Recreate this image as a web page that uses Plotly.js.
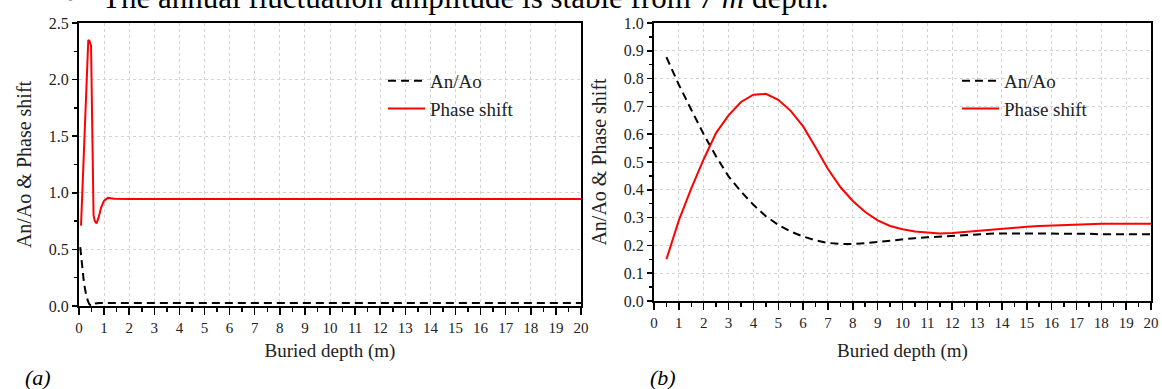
<!DOCTYPE html>
<html>
<head>
<meta charset="utf-8">
<script src="https://cdn.plot.ly/plotly-3.0.1.min.js"></script>
<style>html,body{margin:0;padding:0;background:#fff;}#chart{width:1162px;height:389px;}</style>
</head>
<body>
<div id="chart"></div>
<script>
// ---- Data ----
const depthA_phase = [0.08, 0.2, 0.3, 0.37, 0.42, 0.48, 0.53, 0.58, 0.63, 0.7, 0.78, 0.88, 1.0, 1.15, 1.4, 2, 4, 6, 8, 10, 12, 14, 16, 18, 20];
const phaseA       = [0.71, 1.45, 2.05, 2.35, 2.34, 2.30, 1.55, 0.80, 0.75, 0.73, 0.78, 0.87, 0.93, 0.955, 0.948, 0.945, 0.945, 0.945, 0.945, 0.945, 0.945, 0.945, 0.945, 0.945, 0.945];
const depthA_amp   = [0.05, 0.12, 0.2, 0.3, 0.4, 0.48, 0.56, 0.65, 0.8, 1.0, 2, 4, 6, 8, 10, 12, 14, 16, 18, 20];
const ampA         = [0.52, 0.35, 0.2, 0.08, 0.02, 0.0, 0.01, 0.022, 0.027, 0.027, 0.027, 0.027, 0.027, 0.027, 0.027, 0.027, 0.027, 0.027, 0.027, 0.027];

const depthB = [0.5,1,1.5,2,2.5,3,3.5,4,4.5,5,5.5,6,6.5,7,7.5,8,8.5,9,9.5,10,10.5,11,11.5,12,12.5,13,13.5,14,14.5,15,15.5,16,16.5,17,17.5,18,18.5,19,19.5,20];
const phaseB = [0.15,0.29,0.405,0.51,0.605,0.668,0.716,0.742,0.745,0.724,0.684,0.628,0.553,0.475,0.41,0.36,0.32,0.29,0.27,0.258,0.25,0.246,0.243,0.245,0.249,0.253,0.257,0.261,0.264,0.267,0.27,0.272,0.274,0.276,0.277,0.278,0.278,0.278,0.278,0.278];
const ampB   = [0.877,0.778,0.688,0.6,0.52,0.448,0.394,0.346,0.305,0.274,0.25,0.232,0.218,0.209,0.205,0.205,0.208,0.213,0.218,0.222,0.226,0.229,0.232,0.235,0.238,0.24,0.242,0.243,0.243,0.243,0.243,0.243,0.243,0.243,0.242,0.24,0.24,0.24,0.24,0.24];

const seriesNames = ['An/Ao', 'Phase shift'];
const xTitle = 'Buried depth (m)';
const yTitle = 'An/Ao &amp; Phase shift';
const topText = 'The annual fluctuation amplitude is stable from 7 <i>m</i> depth.';
const panelLabels = ['(a)', '(b)'];

// ---- Geometry ----
const W = 1162, H = 389;
const px = v => v / W;
const py = v => (H - v) / H;
const SERIF = 'Liberation Serif';

const ampStyle = {color: '#000000', width: 2, dash: '8px,5px'};
const phaseStyle = {color: '#ff0000', width: 2};

const traces = [
  {x: depthA_amp, y: ampA, name: seriesNames[0], mode: 'lines', line: ampStyle, xaxis: 'x', yaxis: 'y', legend: 'legend'},
  {x: depthA_phase, y: phaseA, name: seriesNames[1], mode: 'lines', line: phaseStyle, xaxis: 'x', yaxis: 'y', legend: 'legend'},
  {x: depthB, y: ampB, name: seriesNames[0], mode: 'lines', line: ampStyle, xaxis: 'x2', yaxis: 'y2', legend: 'legend2'},
  {x: depthB, y: phaseB, name: seriesNames[1], mode: 'lines', line: phaseStyle, xaxis: 'x2', yaxis: 'y2', legend: 'legend2'}
];

const GRID = {showgrid: true, gridcolor: '#d2d2d2', griddash: '3px,3px', gridwidth: 1, zeroline: false};

function xAxis(domain, anchor, standoff) {
  return Object.assign({
    domain: domain, anchor: anchor, range: [0, 20], tick0: 0, dtick: 1,
    ticks: 'outside', ticklen: 7, tickwidth: 1.5, tickcolor: '#000',
    showline: true, linecolor: '#000', linewidth: 2, mirror: true,
    minor: {dtick: 0.5, ticks: 'outside', ticklen: 4, tickwidth: 1.5, tickcolor: '#000', showgrid: false},
    tickfont: {family: SERIF, size: 15, color: '#222'},
    title: {text: xTitle, font: {family: SERIF, size: 19, color: '#222'}, standoff: standoff},
    fixedrange: true
  }, GRID);
}
function yAxis(domain, anchor, range, dtick, minor, standoff) {
  return Object.assign({
    domain: domain, anchor: anchor, range: range, tick0: 0, dtick: dtick,
    ticks: 'outside', ticklen: 5, tickwidth: 1.5, tickcolor: '#000',
    showline: true, linecolor: '#000', linewidth: 2, mirror: true,
    minor: {dtick: minor, ticks: 'outside', ticklen: 3, tickwidth: 1.5, tickcolor: '#000', showgrid: false},
    tickfont: {family: SERIF, size: 16, color: '#222'}, tickformat: '.1f',
    title: {text: yTitle, font: {family: SERIF, size: 20, color: '#222'}, standoff: standoff},
    fixedrange: true
  }, GRID);
}

const legendBase = {
  font: {family: SERIF, size: 19, color: '#222'}, bgcolor: 'rgba(0,0,0,0)',
  borderwidth: 0, xanchor: 'left', yanchor: 'top', itemwidth: 37, tracegroupgap: 0
};

const layout = {
  width: W, height: H,
  margin: {l: 0, r: 0, t: 0, b: 0},
  paper_bgcolor: '#fff', plot_bgcolor: '#fff',
  xaxis: xAxis([px(79), px(581)], 'y', 9),
  yaxis: yAxis([py(306), py(23)], 'x', [0, 2.5], 0.5, 0.25, 12),
  xaxis2: xAxis([px(654), px(1151)], 'y2', 14),
  yaxis2: yAxis([py(301), py(23)], 'x2', [0, 1], 0.1, 0.05, 12),
  legend: Object.assign({x: px(383), y: py(62)}, legendBase),
  legend2: Object.assign({x: px(957), y: py(62)}, legendBase),
  annotations: [
    {xref: 'paper', yref: 'paper', x: px(70), y: py(-3), xanchor: 'center', yanchor: 'middle', showarrow: false,
     text: '•', font: {family: SERIF, size: 31, color: '#000'}},
    {xref: 'paper', yref: 'paper', x: px(100), y: py(-3), xanchor: 'left', yanchor: 'middle', showarrow: false,
     text: topText, font: {family: SERIF, size: 31, color: '#000'}},
    {xref: 'paper', yref: 'paper', x: px(38), y: py(377), xanchor: 'center', yanchor: 'middle', showarrow: false,
     text: '<i>' + panelLabels[0] + '</i>', font: {family: SERIF, size: 22, color: '#000'}},
    {xref: 'paper', yref: 'paper', x: px(663), y: py(377), xanchor: 'center', yanchor: 'middle', showarrow: false,
     text: '<i>' + panelLabels[1] + '</i>', font: {family: SERIF, size: 22, color: '#000'}}
  ]
};

Plotly.newPlot('chart', traces, layout, {staticPlot: true, displayModeBar: false});
</script>
</body>
</html>
